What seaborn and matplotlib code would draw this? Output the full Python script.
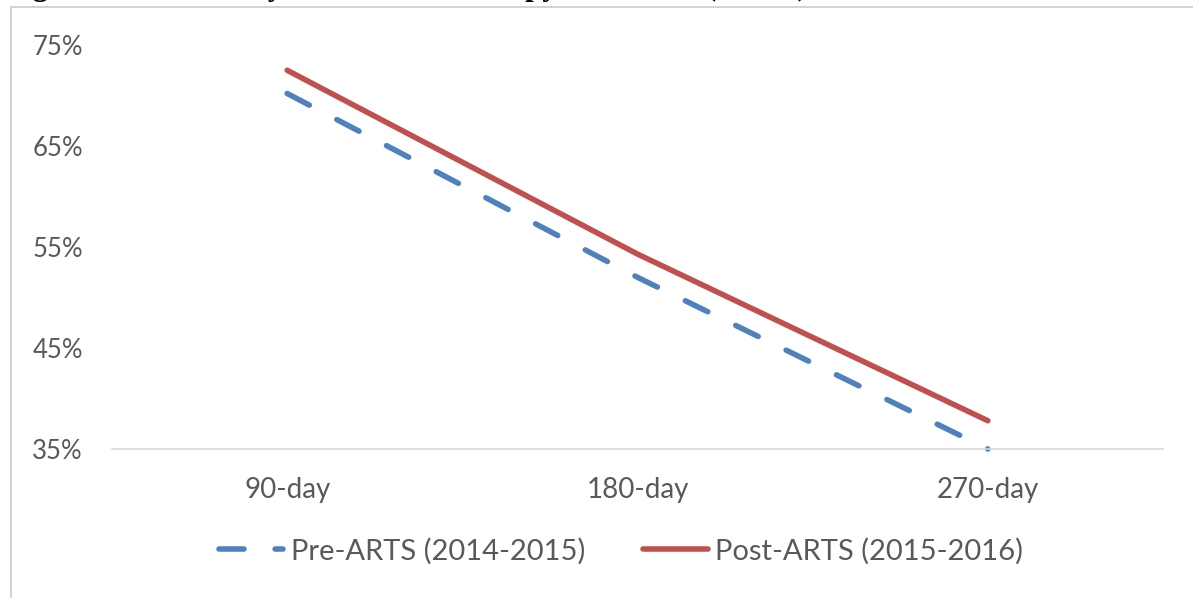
import matplotlib
matplotlib.use("Agg")
import matplotlib.pyplot as plt
from matplotlib.lines import Line2D
import pandas as pd
import seaborn as sns

# Persistency rates by follow-up window
periods = ["90-day", "180-day", "270-day"]
pre_arts = [70.2, 52.0, 35.0]
post_arts = [72.5, 54.3, 37.8]
series_names = ["Pre-ARTS (2014-2015)", "Post-ARTS (2015-2016)"]
y_ticks = [35, 45, 55, 65, 75]
y_tick_labels = ["35%", "45%", "55%", "65%", "75%"]
caption = "Figure 2: Persistency with Statin Therapy Outcomes (ARTS)"

sns.set_theme(style="white")
plt.rcParams["font.family"] = ["Lato", "DejaVu Sans"]

W, H = 1193, 598
TEXT = "#595959"
BLUE = "#4F81BD"
RED = "#C0504D"

df = pd.DataFrame({
    "period": periods * 2,
    "rate": pre_arts + post_arts,
    "cohort": [series_names[0]] * len(periods) + [series_names[1]] * len(periods),
})

fig = plt.figure(figsize=(W / 100, H / 100), dpi=100)
fig.patch.set_facecolor("white")

ax = fig.add_axes([112 / W, 149 / H, (1163 - 112) / W, (449 - 45) / H])
sns.lineplot(
    data=df, x="period", y="rate", hue="cohort", style="cohort",
    palette={series_names[0]: BLUE, series_names[1]: RED},
    dashes={series_names[0]: (4.5, 5.6), series_names[1]: ""},
    linewidth=4.0, sort=False, legend=False, ax=ax,
)
for ln in ax.get_lines():
    ln.set_dash_capstyle("round")
    ln.set_solid_capstyle("round")
    ln.set_clip_on(False)

ax.set_xlim(-0.5, len(periods) - 0.5)
ax.set_ylim(y_ticks[0], y_ticks[-1])
ax.set_yticks(y_ticks)
ax.set_yticklabels(y_tick_labels)
ax.set_xlabel("")
ax.set_ylabel("")
for side in ("left", "top", "right"):
    ax.spines[side].set_visible(False)
ax.spines["bottom"].set_color("#D9D9D9")
ax.spines["bottom"].set_linewidth(1.2)
ax.tick_params(axis="y", length=0, pad=21, labelsize=18.5, labelcolor=TEXT)
ax.tick_params(axis="x", length=0, pad=20, labelsize=20, labelcolor=TEXT)
ax.grid(False)

fig.legend(
    handles=ax.get_lines()[:2], labels=series_names,
    loc="center", bbox_to_anchor=(621 / W, 1 - 551 / H),
    ncol=2, frameon=False, fontsize=21, labelcolor=TEXT,
    handlelength=2.2, handletextpad=0.25, columnspacing=2.0,
)

# chart frame
fig.add_artist(Line2D([11 / W, 11 / W], [0, 1 - 6.5 / H], color="#CFCFCF", lw=1.3))
fig.add_artist(Line2D([11 / W, 1], [1 - 6.5 / H, 1 - 6.5 / H], color="#CFCFCF", lw=1.3))

# caption line above the chart, mostly beyond the top edge
fig.text(5 / W, 1 + 4.5 / H, caption, ha="left", va="baseline",
         fontsize=22.3, fontweight="bold", family=["Liberation Serif"], color="black")

fig.savefig("out.png", dpi=100)
